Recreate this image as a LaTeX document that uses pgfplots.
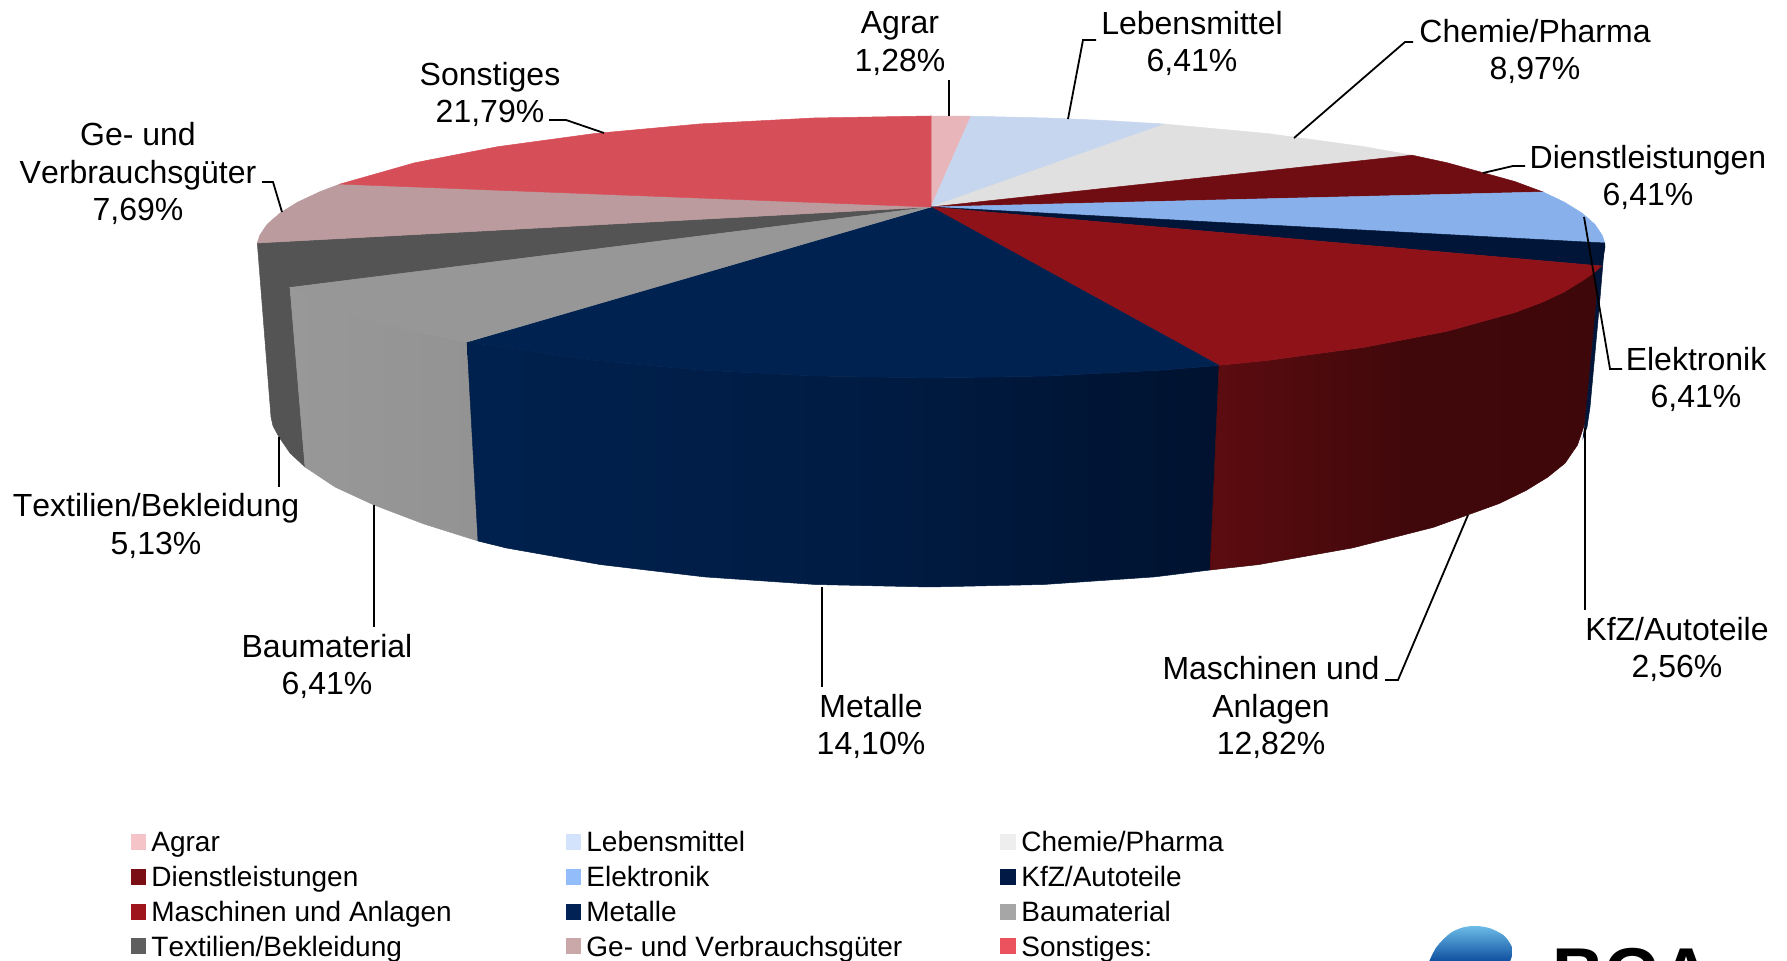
\documentclass[border=0pt]{standalone}
\usepackage{fontspec}
\setmainfont[Kerning=Off]{Liberation Sans}
\usepackage{pgfplots}
\pgfplotsset{compat=1.18}
\definecolor{tAgrar}{HTML}{E8B6BA}
\definecolor{tLeb}{HTML}{C6D6EE}
\definecolor{tChem}{HTML}{E0E0E0}
\definecolor{tDienst}{HTML}{700D13}
\definecolor{tElek}{HTML}{88B1EC}
\definecolor{tKfz}{HTML}{001538}
\definecolor{tMasch}{HTML}{901219}
\definecolor{tMet}{HTML}{002250}
\definecolor{tBau}{HTML}{979797}
\definecolor{tTex}{HTML}{545454}
\definecolor{tGe}{HTML}{BB9B9E}
\definecolor{tSon}{HTML}{D64E58}
\definecolor{lAgrar}{HTML}{F4C4C8}
\definecolor{lLeb}{HTML}{D3E3FC}
\definecolor{lChem}{HTML}{EEEEEE}
\definecolor{lDienst}{HTML}{7A0F16}
\definecolor{lElek}{HTML}{93BCFB}
\definecolor{lKfz}{HTML}{001A45}
\definecolor{lMasch}{HTML}{9E151C}
\definecolor{lMet}{HTML}{002255}
\definecolor{lBau}{HTML}{A6A6A6}
\definecolor{lTex}{HTML}{5F5F5F}
\definecolor{lGe}{HTML}{CAA8AA}
\definecolor{lSon}{HTML}{EB525E}
\definecolor{sBauL}{HTML}{989898}
\definecolor{sBauR}{HTML}{939393}
\definecolor{sMetL}{HTML}{00214E}
\definecolor{sMetM}{HTML}{001C44}
\definecolor{sMetR}{HTML}{00122F}
\definecolor{sMaL}{HTML}{5C0C10}
\definecolor{sMaM}{HTML}{41080B}
\definecolor{sMaR}{HTML}{3E070A}
\definecolor{logoT}{HTML}{6CBCE8}
\definecolor{logoB}{HTML}{0A4A9C}
\tikzset{
  wedge/.style={fill=#1,draw=#1,line width=0.25pt},
  lab/.style={font=\fontsize{16}{18.7}\selectfont,align=center,inner sep=0pt,anchor=center},
  leg/.style={font=\fontsize{14}{16}\selectfont,inner sep=0pt,anchor=base west},
  lead/.style={black,line width=0.9pt},
  key/.style={color=#1,only marks,mark=square*,mark size=3.6pt,mark options={draw=#1,fill=#1,line width=0pt}}
}
\begin{document}
\begin{tikzpicture}
\useasboundingbox (0,0) rectangle (893.5pt,480.5pt);
\begin{axis}[
  at={(0,0)},anchor=south west,
  scale only axis,width=893.5pt,height=480.5pt,
  xmin=0,xmax=1787,ymin=0,ymax=961,y dir=reverse,
  hide axis,clip=false]

% sides
\addplot[wedge=tTex] coordinates {(931,207) (257.3,243) (271,417) (273,426) (279,437) (290,453) (305,467) (290,287.5)} -- cycle;
\addplot[draw=tBau,line width=0.25pt,left color=sBauL,right color=sBauR] coordinates {(290,287.5) (320.2,302.4) (347.3,312.5) (378.9,322.1) (414.7,331.2) (467,342) (478,541) (424,524) (374,505) (335,487) (305,467)} -- cycle;
\addplot[draw=sMetM,line width=0.25pt,left color=sMetL,right color=sMetR,middle color=sMetM] coordinates {(467,342) (594,360.4) (700.5,370.1) (814,376) (931,378) (1048,376) (1161.5,370.1) (1219,365.4) (1210,570) (1154.5,576.9) (1043.7,584.5) (929.5,587) (815.3,584.5) (704.5,576.9) (600.5,564.6) (506.5,548) (478,541)} -- cycle;
\addplot[draw=sMaM,line width=0.25pt,left color=sMaL,right color=sMaR,middle color=sMaM] coordinates {(1219,365.4) (1268,360.4) (1364.2,347.3) (1447.3,331.2) (1514.7,312.5) (1541.8,302.4) (1564.4,291.8) (1582,280.9) (1595,272) (1596.7,300) (1585,423) (1577.5,445) (1565,463.2) (1547.8,477.1) (1525.8,490.6) (1499.3,503.5) (1433.5,527.3) (1352.5,547.9) (1258.5,564.6) (1210,570)} -- cycle;
\addplot[wedge=tKfz] coordinates {(1601.5,266) (1604.7,243) (1603,262) (1600,298) (1590,407) (1587,427) (1583,438) (1585,423) (1596.7,300) (1595,272)} -- cycle;

% top surface, clockwise from Agrar
\addplot[wedge=tAgrar] coordinates {(931,207) (931,116) (971,116.2)} -- cycle;
\addplot[wedge=tLeb] coordinates {(931,207) (971,116.2) (1048,118) (1105.4,120.5) (1165,124.1)} -- cycle;
\addplot[wedge=tChem] coordinates {(931,207) (1165,124.1) (1268,133.6) (1364.2,146.7) (1412,155.2)} -- cycle;
\addplot[wedge=tDienst] coordinates {(931,207) (1412,155.2) (1447.3,162.8) (1514.7,181.5) (1543,192)} -- cycle;
\addplot[wedge=tElek] coordinates {(931,207) (1543,192) (1564.4,202.2) (1582,213.1) (1594.8,224.3) (1602.4,235.6) (1604.7,243)} -- cycle;
\addplot[wedge=tKfz] coordinates {(931,207) (1604.7,243) (1605,247) (1603,258) (1601.5,266)} -- cycle;
\addplot[wedge=tMasch] coordinates {(931,207) (1601.5,266) (1595,272) (1582,280.9) (1564.4,291.8) (1541.8,302.4) (1514.7,312.5) (1447.3,331.2) (1364.2,347.3) (1268,360.4) (1219,365.4)} -- cycle;
\addplot[wedge=tMet] coordinates {(931,207) (1219,365.4) (1161.5,370.1) (1048,376) (931,378) (814,376) (700.5,370.1) (594,360.4) (467,342)} -- cycle;
\addplot[wedge=tBau] coordinates {(931,207) (467,342) (414.7,331.2) (378.9,322.1) (347.3,312.5) (320.2,302.4) (290,287.5)} -- cycle;
\addplot[wedge=tGe] coordinates {(931,207) (257.3,243) (259.6,235.6) (267.2,224.3) (280,213.1) (297.6,202.2) (320.2,191.6) (340,184.1)} -- cycle;
\addplot[wedge=tSon] coordinates {(931,207) (340,184.1) (414.7,162.8) (497.8,146.7) (594,133.6) (700.5,123.9) (814,118) (931,116)} -- cycle;

% leader lines
\addplot[lead] coordinates {(949,80) (949,116)};
\addplot[lead] coordinates {(1096,40) (1083,40) (1068,119)};
\addplot[lead] coordinates {(1413,42) (1405,42) (1294,138)};
\addplot[lead] coordinates {(1525,166) (1513,166) (1483,173)};
\addplot[lead] coordinates {(1584,217) (1610,369) (1622,369)};
\addplot[lead] coordinates {(1585,428) (1585,610)};
\addplot[lead] coordinates {(1468,515) (1398,680) (1385,680)};
\addplot[lead] coordinates {(822,587) (822,687)};
\addplot[lead] coordinates {(374,505) (374,627)};
\addplot[lead] coordinates {(279,437) (279,487)};
\addplot[lead] coordinates {(262,182) (273,182) (282,212)};
\addplot[lead] coordinates {(549,120) (566,120) (604,133)};

% data labels
\node[lab] at (axis cs:900,43.5) {Agrar\\1,28\%};
\node[lab] at (axis cs:1192,43.5) {Lebensmittel\\6,41\%};
\node[lab] at (axis cs:1535,51.5) {Chemie/Pharma\\8,97\%};
\node[lab] at (axis cs:1648,177.5) {Dienstleistungen\\6,41\%};
\node[lab] at (axis cs:1696,379.5) {Elektronik\\6,41\%};
\node[lab] at (axis cs:1677,649.5) {KfZ/Autoteile\\2,56\%};
\node[lab] at (axis cs:1271,707.5) {Maschinen und\\Anlagen\\12,82\%};
\node[lab] at (axis cs:871,726.5) {Metalle\\14,10\%};
\node[lab] at (axis cs:327,666.5) {Baumaterial\\6,41\%};
\node[lab] at (axis cs:156,526) {Textilien/Bekleidung\\5,13\%};
\node[lab] at (axis cs:138,173.5) {Ge- und\\Verbrauchsgüter\\7,69\%};
\node[lab] at (axis cs:490,94.5) {Sonstiges\\21,79\%};

% legend
\addplot[key=lAgrar] coordinates {(138.5,842)};
\addplot[key=lLeb] coordinates {(573.5,842)};
\addplot[key=lChem] coordinates {(1008,842)};
\addplot[key=lDienst] coordinates {(138.5,877)};
\addplot[key=lElek] coordinates {(573.5,877)};
\addplot[key=lKfz] coordinates {(1008,877)};
\addplot[key=lMasch] coordinates {(138.5,912)};
\addplot[key=lMet] coordinates {(573.5,912)};
\addplot[key=lBau] coordinates {(1008,912)};
\addplot[key=lTex] coordinates {(138.5,946)};
\addplot[key=lGe] coordinates {(573.5,946)};
\addplot[key=lSon] coordinates {(1008,946)};
\node[leg] at (axis cs:151,851) {Agrar};
\node[leg] at (axis cs:586,851) {Lebensmittel};
\node[leg] at (axis cs:1021,851) {Chemie/Pharma};
\node[leg] at (axis cs:151,886) {Dienstleistungen};
\node[leg] at (axis cs:586,886) {Elektronik};
\node[leg] at (axis cs:1021,886) {KfZ/Autoteile};
\node[leg] at (axis cs:151,921) {Maschinen und Anlagen};
\node[leg] at (axis cs:586,921) {Metalle};
\node[leg] at (axis cs:1021,921) {Baumaterial};
\node[leg] at (axis cs:151,956) {Textilien/Bekleidung};
\node[leg] at (axis cs:586,956) {Ge- und Verbrauchsgüter};
\node[leg] at (axis cs:1021,956) {Sonstiges:};

% logo, cut off by the lower edge
\addplot[smooth,draw=none,top color=logoT,bottom color=logoB] coordinates {(1429.3,961) (1436.7,946.7) (1450,933.3) (1463.3,927.3) (1476.7,926) (1490,928.3) (1503.3,935) (1510,943.3) (1512.7,950) (1511.7,956.7) (1509.3,963)} -- cycle;
\node[font=\fontsize{36}{36}\selectfont\bfseries,inner sep=0pt,anchor=base west] at (axis cs:1552,998.5) {BGA};
\end{axis}
\end{tikzpicture}
\end{document}
